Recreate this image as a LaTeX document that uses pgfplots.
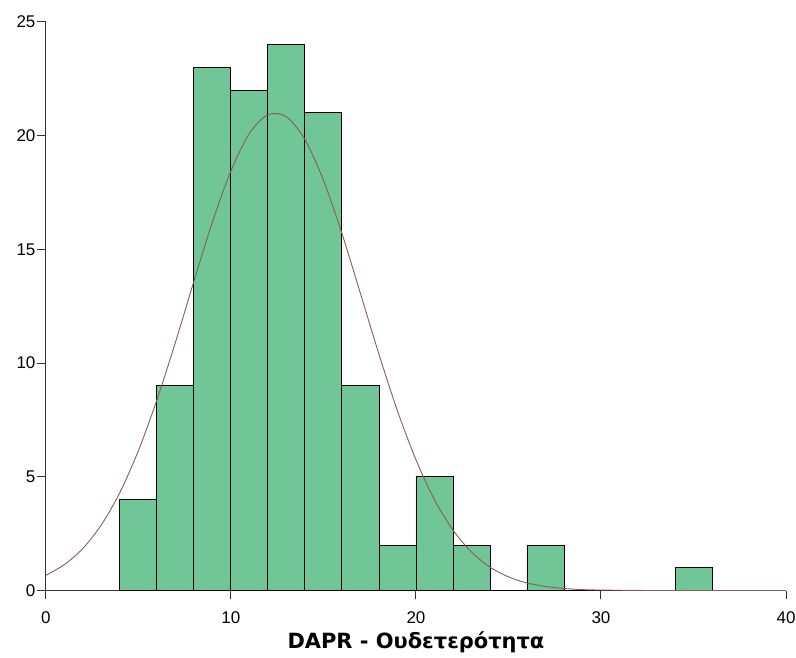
\documentclass[border=0pt]{standalone}
\usepackage{pgfplots}
\pgfplotsset{compat=1.18}
\usepackage{fontspec}
\setmainfont{Liberation Sans}
\newfontfamily\labelfont{DejaVu Sans}
\definecolor{barfill}{RGB}{112,198,150}
\definecolor{curve}{RGB}{135,95,85}
\begin{document}
\begin{tikzpicture}
\begin{axis}[
  scale only axis,
  width=742pt, height=570pt,
  xmin=0, xmax=40, ymin=0, ymax=25,
  axis x line=bottom, axis y line=left,
  axis line style={-, line width=1pt, black!80},
  tick align=outside,
  major tick length=9pt,
  tick style={line width=1pt, black!80},
  xtick={0,10,20,30,40},
  ytick={0,5,10,15,20,25},
  ticklabel style={font=\fontsize{17}{20}\selectfont},
  /pgf/number format/assume math mode=true,
  yticklabel style={xshift=2pt},
  xticklabel style={yshift=-9pt},
  xlabel={\labelfont\fontsize{21}{25}\selectfont\bfseries DAPR - Ουδετερότητα},
  xlabel style={yshift=-1pt},
  clip=false,
]
% histogram counts per bin of width 2
\addplot[ybar interval, fill=barfill, draw=black, line width=0.9pt] coordinates {
  (4,4) (6,9) (8,23) (10,22) (12,24) (14,21) (16,9) (18,2)
  (20,5) (22,2) (24,0) (26,2) (28,0) (30,0) (32,0) (34,1) (36,1)
};
% fitted normal curve
\addplot[curve, line width=0.9pt, smooth, no marks] coordinates {
  (0,0.67) (1,1.14) (2,1.85) (3,2.89) (4,4.31) (5,6.15) (6,8.38)
  (7,10.91) (8,13.60) (9,16.20) (10,18.45) (11,20.10) (12,20.92)
  (13,20.83) (14,19.83) (15,18.04) (16,15.70) (17,13.06)
  (18,10.39) (19,7.90) (20,5.75) (21,3.99) (22,2.66) (23,1.69)
  (24,1.03) (25,0.60) (26,0.33) (27,0.18) (28,0.09) (29,0.04)
  (30,0.02) (32,0.004) (34,0.0) (36,0.0) (38,0.0) (40,0.0)
};
\end{axis}
\pgfresetboundingbox
\useasboundingbox ([shift={(-46pt,-67pt)}]current axis.south west) rectangle ([shift={(10pt,22pt)}]current axis.north east);
\end{tikzpicture}
\end{document}
